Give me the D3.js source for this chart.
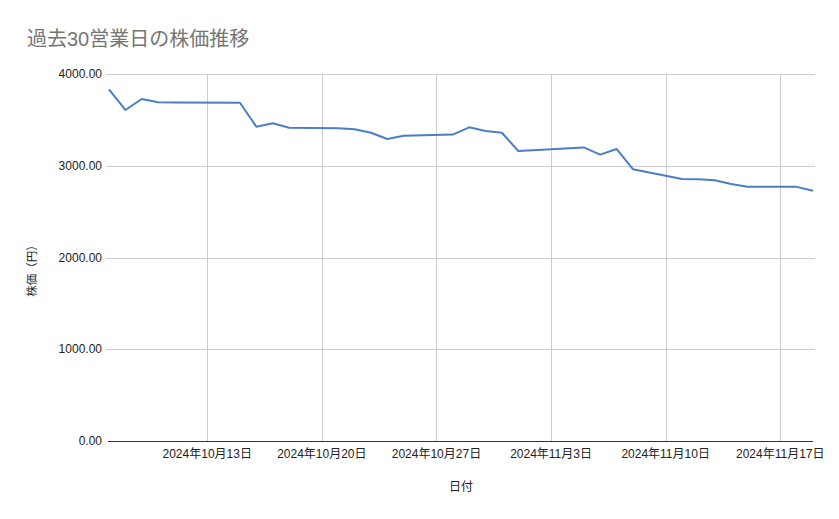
<!DOCTYPE html>
<html>
<head>
<meta charset="utf-8">
<script src="https://cdn.jsdelivr.net/npm/d3@7"></script>
<style>
  body { margin: 0; background: #fff; }
  text { font-family: Arial, "Liberation Sans", "Noto Sans CJK JP", sans-serif; }
</style>
</head>
<body>
<div id="chart"></div>
<script>
// 営業日
const dates = [
  "2024-10-07", "2024-10-08", "2024-10-09", "2024-10-10", "2024-10-11",
  "2024-10-15", "2024-10-16", "2024-10-17", "2024-10-18",
  "2024-10-21", "2024-10-22", "2024-10-23", "2024-10-24", "2024-10-25",
  "2024-10-28", "2024-10-29", "2024-10-30", "2024-10-31", "2024-11-01",
  "2024-11-05", "2024-11-06", "2024-11-07", "2024-11-08",
  "2024-11-11", "2024-11-12", "2024-11-13", "2024-11-14", "2024-11-15",
  "2024-11-18", "2024-11-19"
];
// 株価(円)
const prices = [
  3833, 3608, 3728, 3692, 3690,
  3687, 3426, 3463, 3415,
  3410, 3398, 3360, 3292, 3328,
  3340, 3419, 3379, 3360, 3161,
  3200, 3121, 3183, 2962,
  2855, 2852, 2843, 2801, 2772,
  2770, 2728
];
const yTicks = [0, 1000, 2000, 3000, 4000];
const xTickDates = ["2024-10-13", "2024-10-20", "2024-10-27", "2024-11-03", "2024-11-10", "2024-11-17"];

const W = 839, H = 519;
const margin = { left: 109, right: 26, top: 74, bottom: 78 };

const parse = d3.timeParse("%Y-%m-%d");
const data = dates.map((d, i) => ({ date: parse(d), value: prices[i] }));

const svg = d3.select("#chart").append("svg")
  .attr("width", W)
  .attr("height", H);

const x = d3.scaleTime()
  .domain([data[0].date, data[data.length - 1].date])
  .range([margin.left, W - margin.right]);

const y = d3.scaleLinear()
  .domain([0, 4000])
  .range([H - margin.bottom, margin.top]);

// ---------- title ----------
svg.append("text")
  .attr("x", 27)
  .attr("y", 46)
  .attr("font-size", 20)
  .attr("fill", "#757575")
  .text("過去30営業日の株価推移");

// ---------- grid ----------
const fmtX = d => `${d.getFullYear()}年${d.getMonth() + 1}月${d.getDate()}日`;
const xTicks = xTickDates.map(parse);

svg.append("g")
  .selectAll("line")
  .data(xTicks)
  .join("line")
  .attr("x1", d => Math.round(x(d)) + 0.5)
  .attr("x2", d => Math.round(x(d)) + 0.5)
  .attr("y1", margin.top)
  .attr("y2", H - margin.bottom)
  .attr("stroke", "#cccccc");

svg.append("g")
  .selectAll("line")
  .data(yTicks.filter(v => v > 0))
  .join("line")
  .attr("x1", margin.left - 3)
  .attr("x2", W - margin.right + 2)
  .attr("y1", d => Math.round(y(d)) + 0.5)
  .attr("y2", d => Math.round(y(d)) + 0.5)
  .attr("stroke", "#cccccc");

// ---------- axes labels ----------
svg.append("g")
  .selectAll("text")
  .data(yTicks)
  .join("text")
  .attr("x", margin.left - 7)
  .attr("y", d => y(d))
  .attr("dy", "0.35em")
  .attr("text-anchor", "end")
  .attr("font-size", 12)
  .attr("fill", "#222")
  .text(d => d3.format(".2f")(d));

svg.append("g")
  .selectAll("text")
  .data(xTicks)
  .join("text")
  .attr("x", d => x(d))
  .attr("y", H - margin.bottom + 17)
  .attr("text-anchor", "middle")
  .attr("font-size", 12)
  .attr("fill", "#222")
  .text(fmtX);

// ---------- line ----------
const line = d3.line()
  .x(d => x(d.date))
  .y(d => y(d.value));

svg.append("path")
  .datum(data)
  .attr("fill", "none")
  .attr("stroke", "#4a7ec6")
  .attr("stroke-width", 2)
  .attr("stroke-linejoin", "round")
  .attr("d", line);

// baseline
svg.append("line")
  .attr("x1", margin.left - 1)
  .attr("x2", W - margin.right)
  .attr("y1", Math.round(y(0)) + 0.5)
  .attr("y2", Math.round(y(0)) + 0.5)
  .attr("stroke", "#333");

// ---------- axis titles ----------
svg.append("text")
  .attr("x", (margin.left + W - margin.right) / 2)
  .attr("y", 491)
  .attr("text-anchor", "middle")
  .attr("font-size", 12)
  .attr("fill", "#222")
  .text("日付");

svg.append("text")
  .attr("transform", "translate(36,268) rotate(-90)")
  .attr("text-anchor", "middle")
  .attr("font-size", 11.5)
  .attr("fill", "#222")
  .text("株価（円）");
</script>
</body>
</html>
